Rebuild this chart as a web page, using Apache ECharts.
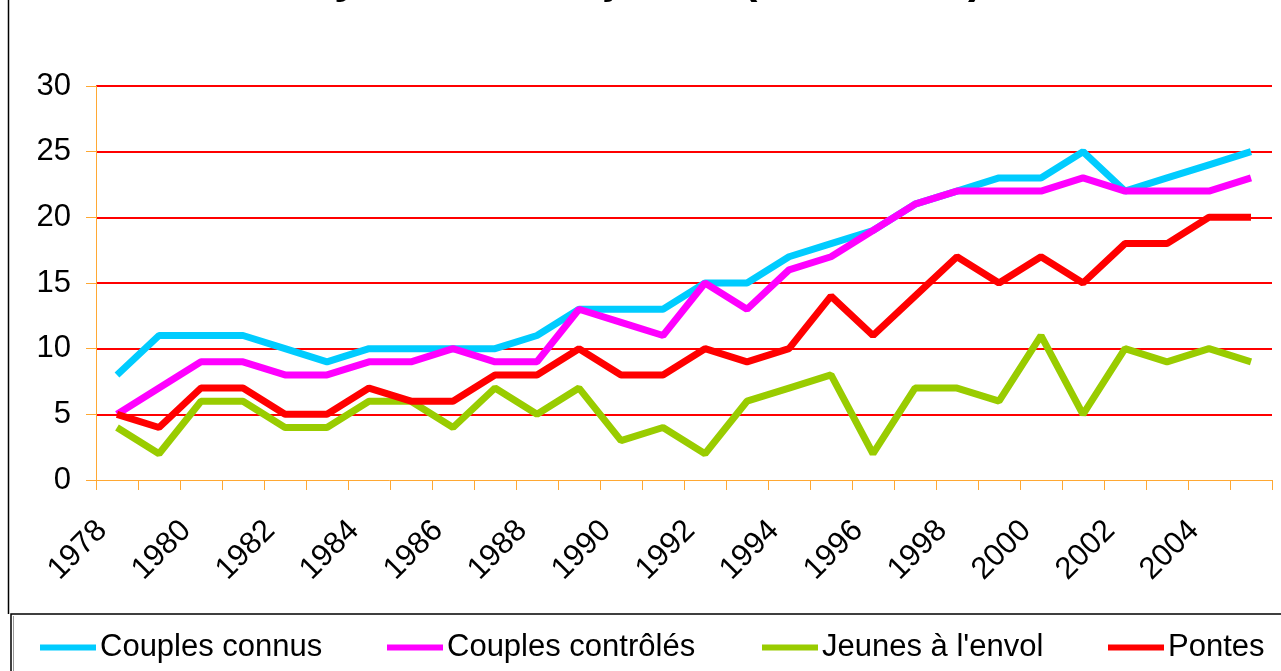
<!DOCTYPE html>
<html>
<head>
<meta charset="utf-8">
<title>Pyrénées françaises (1978-2005)</title>
<script src="https://cdn.jsdelivr.net/npm/echarts@6/dist/echarts.min.js"></script>
<style>
    html, body { margin: 0; padding: 0; background: #fff; }
    #chart { width: 1281px; height: 671px; }
</style>
</head>
<body>
<div id="chart"></div>
<script>
var years = ['1978', '1979', '1980', '1981', '1982', '1983', '1984', '1985', '1986', '1987',
    '1988', '1989', '1990', '1991', '1992', '1993', '1994', '1995', '1996', '1997',
    '1998', '1999', '2000', '2001', '2002', '2003', '2004', '2005'];

var couplesConnus    = [8, 11, 11, 11, 10, 9, 10, 10, 10, 10, 11, 13, 13, 13, 15, 15, 17, 18, 19, 21, 22, 23, 23, 25, 22, 23, 24, 25];
var couplesControles = [5, 7, 9, 9, 8, 8, 9, 9, 10, 9, 9, 13, 12, 11, 15, 13, 16, 17, 19, 21, 22, 22, 22, 23, 22, 22, 22, 23];
var jeunesEnvol      = [4, 2, 6, 6, 4, 4, 6, 6, 4, 7, 5, 7, 3, 4, 2, 6, 7, 8, 2, 7, 7, 6, 11, 5, 10, 9, 10, 9];
var pontes           = [5, 4, 7, 7, 5, 5, 7, 6, 6, 8, 8, 10, 8, 8, 10, 9, 10, 14, 11, 14, 17, 15, 17, 15, 18, 18, 20, 20];

var seriesNames = ['Couples connus', 'Couples contrôlés', 'Jeunes à l\'envol', 'Pontes'];
var seriesColors = ['#00CCFF', '#FF00FF', '#99CC00', '#FF0000'];
var legendLeft = [40, 387, 762, 1108];

var FONT = '"Liberation Sans", Arial, sans-serif';
var AXIS_CLR = '#FFA833';

function makeLine(name, data, color) {
    return {
        name: name,
        type: 'line',
        data: data,
        showSymbol: false,
        symbol: 'none',
        color: color,
        lineStyle: { color: color, width: 7 },
        emphasis: { disabled: true }
    };
}

function makeLegend(idx) {
    return {
        data: [seriesNames[idx]],
        left: legendLeft[idx],
        top: 632,
        icon: 'rect',
        itemWidth: 56,
        itemHeight: 6,
        padding: 0,
        selectedMode: false,
        textStyle: { fontFamily: FONT, fontSize: 31, color: '#000', padding: [0, 0, 0, -1] }
    };
}

function render() {
    var myChart = echarts.init(document.getElementById('chart'), null, { renderer: 'canvas' });

    var legends = [];
    for (var i = 0; i < seriesNames.length; i++) {
        legends.push(makeLegend(i));
    }

    var option = {
        animation: false,
        backgroundColor: '#fff',
        title: {
            text: 'Pyrénées françaises (1978-2005)',
            left: 305,
            top: -41,
            padding: 0,
            textStyle: { fontFamily: FONT, fontSize: 44, fontWeight: 'bold', color: '#000' }
        },
        legend: legends,
        grid: { left: 96, right: 9, top: 86, bottom: 191, containLabel: false },
        xAxis: {
            type: 'category',
            data: years,
            boundaryGap: true,
            axisLine: { lineStyle: { color: AXIS_CLR, width: 1 } },
            axisTick: { show: true, interval: 0, length: 10, lineStyle: { color: AXIS_CLR } },
            axisLabel: {
                interval: 1,
                rotate: 45,
                margin: 31,
                padding: [0, 21, 0, 0],
                fontFamily: FONT,
                fontSize: 31,
                color: '#000'
            },
            splitLine: { show: false }
        },
        yAxis: {
            type: 'value',
            min: 0,
            max: 30,
            interval: 5,
            axisLine: { show: true, lineStyle: { color: AXIS_CLR, width: 1 } },
            axisTick: { show: true, length: 10, lineStyle: { color: AXIS_CLR } },
            axisLabel: { margin: 25, fontFamily: FONT, fontSize: 31, color: '#000' },
            splitLine: { show: true, showMinLine: false, lineStyle: { color: '#FF0000', width: 2 } }
        },
        graphic: [
            // cadre du graphique et boite de legende
            { type: 'line', shape: { x1: 8.5, y1: 0, x2: 8.5, y2: 614 }, style: { stroke: '#000', lineWidth: 1.5 } },
            { type: 'rect', shape: { x: 11, y: 614, width: 1300, height: 100 }, style: { fill: null, stroke: '#000', lineWidth: 1.5 } },
            { type: 'line', shape: { x1: 13.5, y1: 616, x2: 13.5, y2: 671 }, style: { stroke: '#999', lineWidth: 1 } }
        ],
        series: [
            makeLine(seriesNames[0], couplesConnus, seriesColors[0]),
            makeLine(seriesNames[1], couplesControles, seriesColors[1]),
            makeLine(seriesNames[2], jeunesEnvol, seriesColors[2]),
            makeLine(seriesNames[3], pontes, seriesColors[3])
        ]
    };

    myChart.setOption(option);
}

render();
</script>
</body>
</html>
